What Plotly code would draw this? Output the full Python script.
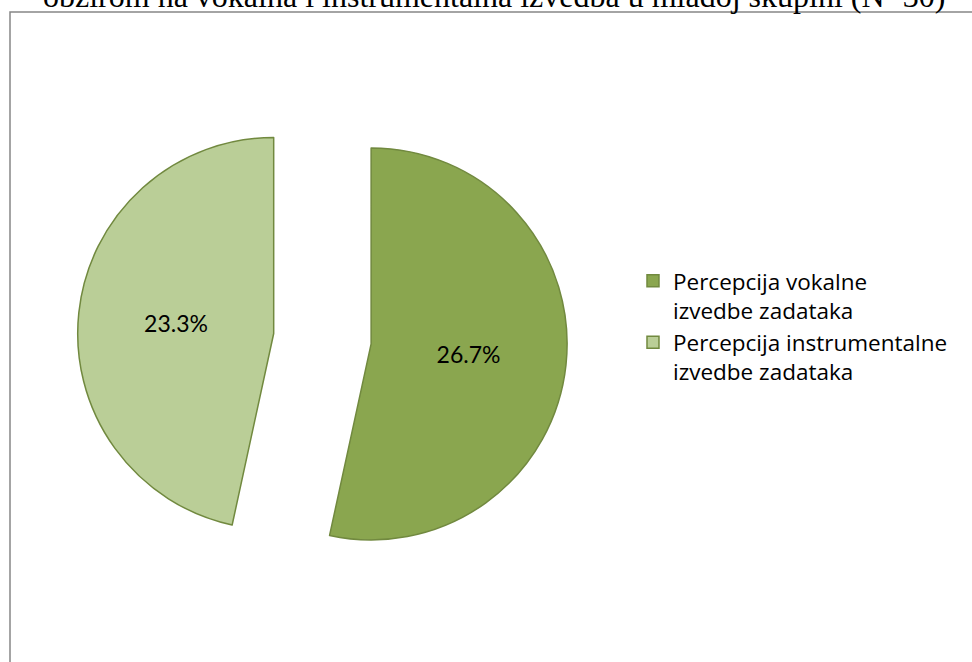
import plotly.graph_objects as go

# data
labels = ["Percepcija vokalne<br>izvedbe zadataka",
          "Percepcija instrumentalne<br>izvedbe zadataka"]
values = [26.7, 23.3]
colors = ["#8AA64F", "#BACE97"]
title_text = "obzirom na vokalna i instrumentalna izvedba u mlađoj skupini (N=30)"

fig = go.Figure(go.Pie(
    labels=labels, values=values, sort=False, direction="clockwise", rotation=0,
    pull=[0.25, 0.25],
    marker=dict(colors=colors, line=dict(color="#71893F", width=1.5)),
    texttemplate="%{value:.1f}%", textposition="inside",
    insidetextorientation="horizontal",
    textfont=dict(family="Lato", size=23, color="black"),
    domain=dict(x=[0.0701, 0.5794], y=[0.1205, 0.8743]),
    hoverinfo="label+value",
))

fig.update_layout(
    width=972, height=662,
    margin=dict(l=10, r=0, t=12, b=0),
    paper_bgcolor="white", plot_bgcolor="white",
    showlegend=True,
    legend=dict(x=0.6476, y=0.619, xanchor="left", yanchor="top",
                valign="top", font=dict(family="Open Sans", size=22.5, color="black"),
                bgcolor="rgba(0,0,0,0)"),
    annotations=[dict(text=title_text, x=0.5026, y=1, xref="paper", yref="paper",
                      xanchor="center", yanchor="bottom", yshift=-4, showarrow=False,
                      font=dict(family="Liberation Serif", size=32, color="black"))],
    shapes=[dict(type="rect", xref="paper", yref="paper", x0=0, x1=1.2, y0=-0.2, y1=1,
                 line=dict(color="#868686", width=1.5))],
)

# drop the default page margin so the figure sits at the window's corner
fig.write_html("out.html", config={"displayModeBar": False},
               post_script="document.body.style.margin='0';")
